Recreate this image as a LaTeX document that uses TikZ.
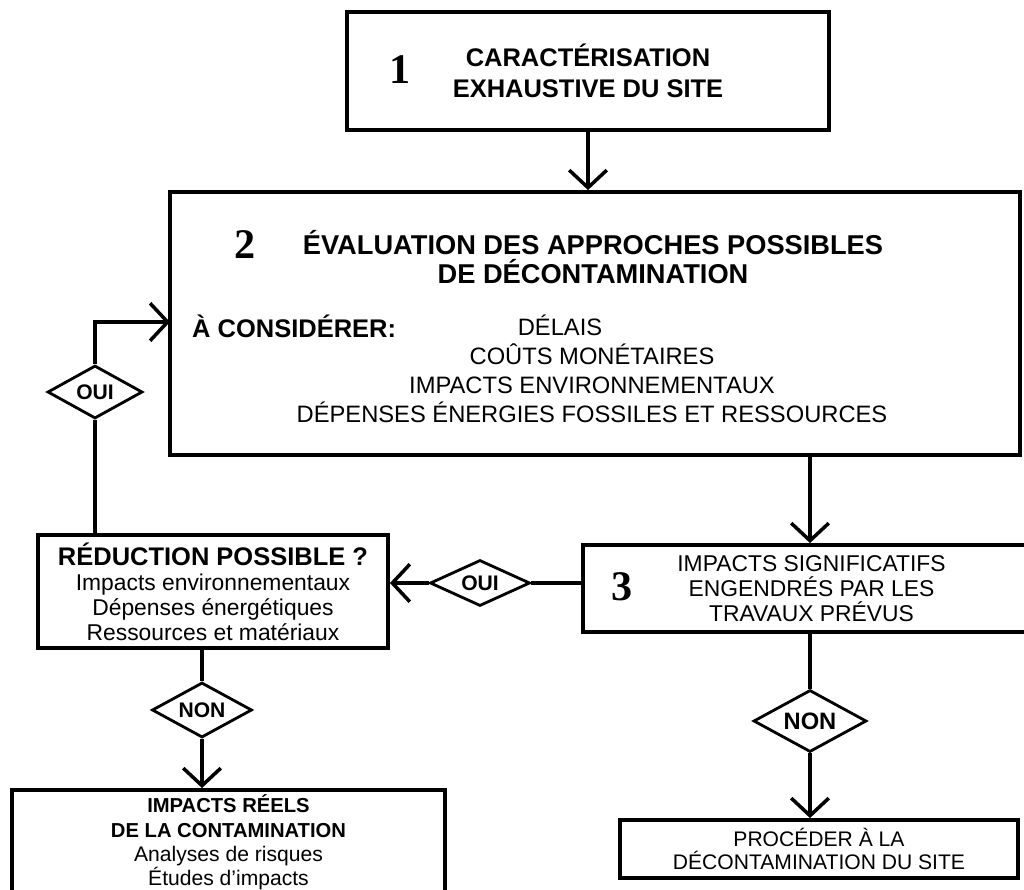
\documentclass[tikz,border=0pt]{standalone}
\usepackage{fontspec}
\setmainfont{Liberation Sans}
\newfontfamily\numfont{Liberation Serif}
\usetikzlibrary{arrows.meta, shapes.geometric}

\tikzset{
	box/.style={draw, line width=2.2pt, rectangle, align=center, inner sep=0pt},
	choice/.style={draw, line width=1.6pt, diamond, aspect=1.9, inner sep=0pt, font=\bfseries\fontsize{12}{12}\selectfont},
	flow/.style={line width=2pt, -{Straight Barb[length=3.5mm, width=7.5mm]}},
	link/.style={line width=2pt},
	num/.style={font=\numfont\bfseries\fontsize{24}{24}\selectfont},
}

\begin{document}
\begin{tikzpicture}[x = 0.2mm, y = -0.2mm]
	\useasboundingbox (0, 0) rectangle (1024, 890);
	
	% Step 1
	\node[box, minimum width=96.4mm, minimum height=23.6mm, font=\bfseries\fontsize{14.5}{17.6}\selectfont] (site) at (588, 71) {CARACTÉRISATION\\EXHAUSTIVE DU SITE};
	\node[num] (n1) at (400, 70) {1};
	
	% Step 2
	\node[box, minimum width=170mm, minimum height=52.6mm] (eval) at (595, 323.5) {};
	\node[num] (n2) at (245, 245) {2};
	\node[align=center, font=\bfseries\fontsize{15.5}{17}\selectfont] (evaltitle) at (593, 257) {ÉVALUATION DES APPROCHES POSSIBLES\\DE DÉCONTAMINATION};
	\node[anchor=west, font=\bfseries\fontsize{14.5}{14.5}\selectfont] (consider) at (186, 326) {À CONSIDÉRER:};
	\node[font=\fontsize{13.5}{13.5}\selectfont] (delais) at (560, 325) {DÉLAIS};
	\node[align=center, font=\fontsize{13.5}{16.5}\selectfont] (criteria) at (592, 383) {COÛTS MONÉTAIRES\\IMPACTS ENVIRONNEMENTAUX\\DÉPENSES ÉNERGIES FOSSILES ET RESSOURCES};
	\coordinate (entry) at (170, 322);
	
	% Step 3
	\node[box, minimum width=91.4mm, minimum height=17.4mm, font=\fontsize{13}{14.2}\selectfont] (impacts) at (811.5, 588.5) {IMPACTS SIGNIFICATIFS\\ENGENDRÉS PAR LES\\TRAVAUX PRÉVUS};
	\node[num] (n3) at (622, 587) {3};
	
	% Reduction
	\node[box, minimum width=70mm, minimum height=22.6mm, font=\fontsize{13}{14.2}\selectfont] (reduce) at (213, 591.5) {{\bfseries\fontsize{14.5}{14.2}\selectfont RÉDUCTION POSSIBLE ?}\\Impacts environnementaux\\Dépenses énergétiques\\Ressources et matériaux};
	
	% Outcomes
	\node[box, minimum width=86.6mm, minimum height=21mm, font=\fontsize{12}{13.8}\selectfont] (real) at (228.5, 842.5) {{\bfseries\fontsize{11.5}{13.8}\selectfont IMPACTS RÉELS}\\{\bfseries\fontsize{11.5}{13.8}\selectfont DE LA CONTAMINATION}\\Analyses de risques\\Études d’impacts};
	\node[box, minimum width=79.6mm, minimum height=11.6mm, font=\fontsize{12}{13}\selectfont] (proceed) at (819, 849) {PROCÉDER À LA\\DÉCONTAMINATION DU SITE};
	
	% Decisions
	\node[choice, minimum width=19mm, minimum height=10.6mm] (yesleft) at (95, 392) {OUI};
	\node[choice, minimum width=20mm, minimum height=9.2mm] (yesmid) at (480, 583) {OUI};
	\node[choice, minimum width=20mm, minimum height=11mm] (noleft) at (202, 710) {NON};
	\node[choice, minimum width=22.6mm, minimum height=12.4mm, font=\bfseries\fontsize{13.5}{13.5}\selectfont] (noright) at (810, 721) {NON};
	
	% Edges
	\draw[flow] (site.south) -- (site.south |- eval.north);
	\draw[flow] (eval.south -| noright) -- (impacts.north -| noright);
	
	\draw[link] (impacts.west |- yesmid) -- (yesmid.east);
	\draw[flow] (yesmid.west) -- (reduce.east |- yesmid);
	
	\draw[link] (reduce.north -| yesleft) -- (yesleft.south);
	\draw[flow] (yesleft.north) |- (entry);
	
	\draw[link] (reduce.south -| noleft) -- (noleft.north);
	\draw[flow] (noleft.south) -- (real.north -| noleft);
	
	\draw[link] (impacts.south -| noright) -- (noright.north);
	\draw[flow] (noright.south) -- (proceed.north -| noright);
\end{tikzpicture}
\end{document}
